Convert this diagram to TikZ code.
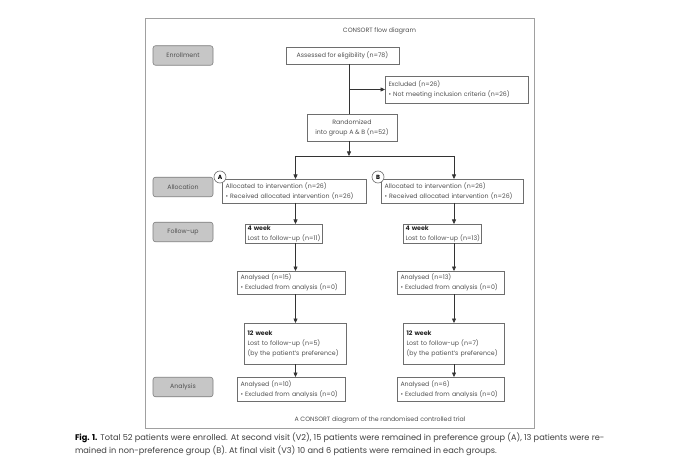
\documentclass[tikz,border=0pt]{standalone}
\usepackage{fontspec}
\setmainfont{Poppins}
\usetikzlibrary{arrows.meta}
\definecolor{txt}{HTML}{505050}
\definecolor{bord}{HTML}{6E6E6E}
\definecolor{stagefill}{HTML}{C6C6C6}
\definecolor{stagebord}{HTML}{7E7E7E}
\definecolor{frame}{HTML}{A0A0A0}
\begin{document}
\begin{tikzpicture}[x=1pt,y=-1pt,
  every node/.style={inner sep=0pt, outer sep=0pt, text=txt},
  dfont/.style={font=\fontsize{6.25}{10}\selectfont},
  stage/.style={dfont, draw=stagebord, fill=stagefill, rounded corners=2.5pt,
     minimum width=60pt, minimum height=19.5pt, line width=0.6pt},
  flow/.style={dfont, draw=bord, fill=white, line width=0.5pt, align=center},
  flowl/.style={dfont, draw=bord, fill=white, line width=0.5pt, align=left, inner xsep=3.5pt},
  grp/.style={draw=bord, fill=white, circle, minimum size=12pt, line width=0.6pt,
     font=\fontsize{6}{6}\selectfont\bfseries, text=black},
  conn/.style={draw=black!80, line width=0.6pt},
  arr/.style={conn, -{Triangle[length=4.5pt,width=4pt]}},
  capfont/.style={anchor=base west, font=\fontsize{8.2}{13}\selectfont, text=black!75},
]
\useasboundingbox (0,0) rectangle (680,473);
\fill[white] (0,0) rectangle (680,473);
% frame
\node[draw=frame, line width=0.6pt, minimum width=389pt, minimum height=410pt] (frm) at (339.5,223) {};
\node[dfont] (title) at (379.5,30.5) {CONSORT flow diagram};
\node[dfont] (foot) at (380,420) {A CONSORT diagram of the randomised controlled trial};

% stage boxes
\node[stage] (enr) at (183,55.5) {Enrollment};
\node[stage] (alloc) at (183,187) {Allocation};
\node[stage] (fol) at (183,232) {Follow-up};
\node[stage] (ana) at (183,387) {Analysis};

% flow boxes
\node[flow, minimum width=113pt, minimum height=17pt] (assess) at (342.5,55.5) {Assessed for eligibility (n=78)};
\node[flowl, text width=136pt, minimum height=27pt] (excl) at (456.5,89.5) {Excluded (n=26)\\ • Not meeting inclusion criteria (n=26)};
\node[flow, minimum width=90pt, minimum height=27pt] (rand) at (352,127.5) {Randomized\\ into group A \& B (n=52)};

\node[flowl, text width=137pt, minimum height=24pt] (allocA) at (294,191) {Allocated to intervention (n=26)\\ • Received allocated intervention (n=26)};
\node[flowl, text width=135pt, minimum height=24pt] (allocB) at (452,191) {Allocated to intervention (n=26)\\ • Received allocated intervention (n=26)};
\node[grp] (gA) at (220,177) {A};
\node[grp] (gB) at (378,177) {B};

\node[flowl, inner xsep=2.5pt, text width=72pt, minimum height=19pt] (w4A) at (283.5,233.5) {\textbf{\color{black!85}4 week}\\ \mbox{Lost to follow-up (n=11)}};
\node[flowl, inner xsep=2.5pt, text width=73pt, minimum height=19pt] (w4B) at (442,233.5) {\textbf{\color{black!85}4 week}\\ \mbox{Lost to follow-up (n=13)}};

\node[flowl, text width=101pt, minimum height=23pt] (anA) at (291,282.5) {Analysed (n=15)\\ • Excluded from analysis (n=0)};
\node[flowl, text width=100pt, minimum height=23pt] (anB) at (450.5,282.5) {Analysed (n=13)\\ • Excluded from analysis (n=0)};

\node[flowl, text width=95pt, minimum height=41pt] (w12A) at (295,343.5) {\textbf{\color{black!85}12 week}\\ Lost to follow-up (n=5)\\ (by the patient's preference)};
\node[flowl, text width=94pt, minimum height=41pt] (w12B) at (453.5,343.5) {\textbf{\color{black!85}12 week}\\ Lost to follow-up (n=7)\\ (by the patient's preference)};

\node[flowl, text width=101pt, minimum height=24pt] (finA) at (291,389) {Analysed (n=10)\\ • Excluded from analysis (n=0)};
\node[flowl, text width=100pt, minimum height=24pt] (finB) at (450.5,389) {Analysed (n=6)\\ • Excluded from analysis (n=0)};

% connector coordinates
\coordinate (trunk) at (349,0);
\coordinate (colA) at (295.5,0);
\coordinate (colB) at (454,0);
\coordinate (split) at (349,156);

\draw[conn] (assess.south -| trunk) -- (rand.north -| trunk);
\draw[arr] (trunk |- excl.west) -- (excl.west);
\draw[arr] (rand.south -| trunk) -- (split);
\draw[conn] (split -| colA) -- (split -| colB);
\draw[arr] (split -| colA) -- (allocA.north -| colA);
\draw[arr] (split -| colB) -- (allocB.north -| colB);

\draw[arr] (allocA.south -| colA) -- (w4A.north -| colA);
\draw[arr] (w4A.south -| colA) -- (anA.north -| colA);
\draw[arr] (anA.south -| colA) -- (w12A.north -| colA);
\draw[arr] (w12A.south -| colA) -- (finA.north -| colA);

\draw[arr] (allocB.south -| colB) -- (w4B.north -| colB);
\draw[arr] (w4B.south -| colB) -- (anB.north -| colB);
\draw[arr] (anB.south -| colB) -- (w12B.north -| colB);
\draw[arr] (w12B.south -| colB) -- (finB.north -| colB);

% caption
\node[capfont] (cap1) at (75,440)
 {\textbf{\color{black}Fig. 1.} Total 52 patients were enrolled. At second visit (V2), 15 patients were remained in preference group (A), 13 patients were re-};
\node[capfont] (cap2) at (75,453)
 {mained in non-preference group (B). At final visit (V3) 10 and 6 patients were remained in each groups.};
\end{tikzpicture}
\end{document}
